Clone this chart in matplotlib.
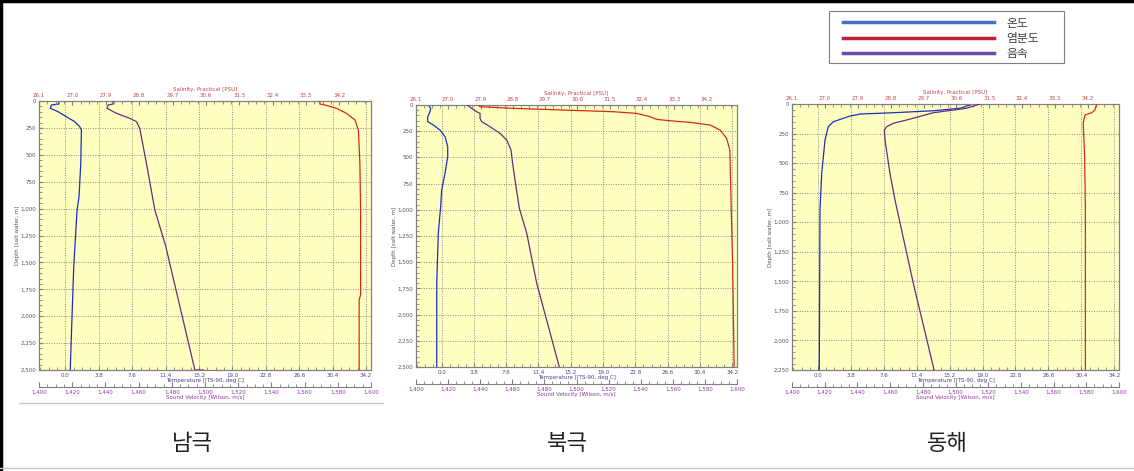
import matplotlib.pyplot as plt
from matplotlib.lines import Line2D
from matplotlib.patches import Rectangle
from matplotlib.ticker import MultipleLocator, FuncFormatter

# ---- data ----
# 남극
ant_temp_depth = [0, 28, 37, 68, 99, 146, 192, 238, 270, 579, 889, 1013, 1540, 2500]
ant_temp = [-0.73, -0.73, -1.60, -1.71, -0.84, 0.11, 1.06, 1.63, 1.82, 1.75, 1.55, 1.33, 0.95, 0.55]
ant_sv_depth = [0, 28, 37, 68, 115, 161, 192, 254, 579, 1013, 1354, 2500, 2500]
ant_sv = [1444.6, 1444.6, 1441.6, 1441.0, 1446.7, 1454.7, 1458.7, 1460.7, 1464.7, 1469.8, 1476.4, 1493.9, 1499.0]
ant_sal_depth = [0, 28, 37, 68, 115, 177, 270, 579, 1013, 1800, 1850, 2500]
ant_sal = [33.67, 33.67, 33.81, 34.12, 34.39, 34.62, 34.71, 34.75, 34.77, 34.77, 34.73, 34.73]

# 북극
arc_temp_depth = [0, 32, 64, 111, 159, 191, 239, 302, 397, 493, 652, 811, 970, 1224, 1701, 2500]
arc_temp = [-1.55, -1.27, -1.35, -1.62, -1.62, -0.96, -0.18, 0.41, 0.73, 0.73, 0.41, 0.02, -0.10, -0.38, -0.56, -0.56]
arc_sv_depth = [0, 32, 64, 80, 127, 159, 207, 270, 334, 429, 556, 716, 986, 1224, 1701, 2500]
arc_sv = [1432.0, 1434.7, 1437.8, 1439.9, 1439.9, 1440.9, 1446.1, 1452.3, 1456.5, 1459.2, 1460.2, 1461.7, 1464.4, 1469.0, 1475.2, 1489.3]
arc_sal_depth = [0, 16, 32, 48, 64, 80, 111, 137, 150, 169, 191, 239, 318, 429, 716, 1002, 1543, 2500]
arc_sal = [27.84, 27.88, 28.81, 30.21, 31.60, 32.25, 32.62, 32.81, 33.18, 33.83, 34.30, 34.58, 34.76, 34.85, 34.87, 34.89, 34.93, 34.97]

# 동해
eas_temp_depth = [0, 36, 57, 74, 85, 102, 150, 192, 305, 586, 896, 2250]
eas_temp = [17.93, 16.39, 13.31, 8.69, 4.85, 3.69, 1.77, 1.19, 0.81, 0.43, 0.23, 0.15]
eas_sv_depth = [0, 36, 74, 135, 163, 192, 220, 305, 586, 812, 1517, 2250]
eas_sv = [1515.0, 1506.8, 1486.4, 1470.2, 1462.0, 1457.9, 1456.5, 1456.9, 1459.9, 1463.0, 1474.2, 1486.9]
eas_sal_depth = [0, 51, 74, 93, 163, 446, 896, 2250]
eas_sal = [34.44, 34.39, 34.30, 34.12, 34.07, 34.11, 34.13, 34.13]

titles = ['남극', '북극', '동해']
depth_max = [2500, 2500, 2250]
legend_labels = ['온도', '염분도', '음속']

panels = [
    (ant_temp_depth, ant_temp, ant_sal_depth, ant_sal, ant_sv_depth, ant_sv),
    (arc_temp_depth, arc_temp, arc_sal_depth, arc_sal, arc_sv_depth, arc_sv),
    (eas_temp_depth, eas_temp, eas_sal_depth, eas_sal, eas_sv_depth, eas_sv),
]

# axes boxes in pixels (x0, y0_top, x1, y1_bottom)
boxes = [(39, 101, 371, 370), (416, 105, 737, 367), (792, 104, 1119, 370)]
title_x = [192, 567, 947]

W, H = 1134, 471
c_temp, c_sal, c_sv = '#1c2fc4', '#d42a1e', '#6b2a80'
fs = 4
kr = ['Noto Sans CJK KR', 'DejaVu Sans']

fig = plt.figure(figsize=(W / 100, H / 100), dpi=100)

for i, (td, t, sd, s, vd, v) in enumerate(panels):
    x0, y0, x1, y1 = boxes[i]
    ax = fig.add_axes([x0 / W, 1 - y1 / H, (x1 - x0) / W, (y1 - y0) / H])
    ax.set_facecolor('#ffffc0')
    ax.plot(t, td, color=c_temp, lw=0.9, zorder=3)
    ax.set_xlim(-3.0, 34.75)
    ax.set_ylim(depth_max[i], 0)
    ax.xaxis.set_major_locator(MultipleLocator(3.8))
    ax.xaxis.set_minor_locator(MultipleLocator(0.95))
    ax.xaxis.set_major_formatter(FuncFormatter(lambda x, p: f'{x:.1f}'))
    ax.yaxis.set_major_locator(MultipleLocator(250))
    ax.yaxis.set_minor_locator(MultipleLocator(50))
    ax.yaxis.set_major_formatter(FuncFormatter(lambda y, p: f'{y:,.0f}'))
    ax.grid(True, which='major', color='#8c8c8c', lw=0.7, ls=(0, (1, 1.5)))
    ax.tick_params(which='both', direction='in', labelsize=fs, colors='#808080', pad=2)
    ax.tick_params(axis='x', labelcolor='#45458a')
    ax.tick_params(axis='y', labelcolor='#555555')
    ax.tick_params(which='major', length=3)
    ax.tick_params(which='minor', length=2)
    ax.set_xlabel('Temperature [ITS-90, deg C]', fontsize=fs, color='#45458a', labelpad=0.5)
    ax.set_ylabel('Depth [salt water, m]', fontsize=fs, color='#555555', labelpad=0.5)
    for sp in ax.spines.values():
        sp.set_color('#808080')

    # salinity on top
    axs = ax.twiny()
    axs.plot(s, sd, color=c_sal, lw=0.9, zorder=3)
    axs.set_xlim(26.1, 35.05)
    axs.xaxis.set_major_locator(MultipleLocator(0.9))
    axs.xaxis.set_minor_locator(MultipleLocator(0.225))
    axs.xaxis.set_major_formatter(FuncFormatter(lambda x, p: f'{x:.1f}'))
    axs.tick_params(which='both', direction='in', labelsize=fs, colors='#808080',
                    labelcolor='#c04848', pad=2)
    axs.tick_params(which='major', length=3)
    axs.tick_params(which='minor', length=2)
    axs.set_xlabel('Salinity, Practical [PSU]', fontsize=fs, color='#c04848', labelpad=1.5)
    for sp in axs.spines.values():
        sp.set_color('#808080')

    # sound velocity on an offset bottom axis
    axv = ax.twiny()
    axv.plot(v, vd, color=c_sv, lw=0.9, zorder=3)
    axv.set_xlim(1400, 1600)
    axv.xaxis.set_ticks_position('bottom')
    axv.xaxis.set_label_position('bottom')
    axv.spines['bottom'].set_position(('outward', 12))
    for k in ['top', 'left', 'right']:
        axv.spines[k].set_visible(False)
    axv.spines['bottom'].set_color('#808080')
    axv.xaxis.set_major_locator(MultipleLocator(20))
    axv.xaxis.set_minor_locator(MultipleLocator(5))
    axv.xaxis.set_major_formatter(FuncFormatter(lambda x, p: f'{x:,.0f}'))
    axv.tick_params(which='both', direction='in', labelsize=fs, colors='#808080',
                    labelcolor='#8a3a9a', pad=2)
    axv.tick_params(which='major', length=3.5)
    axv.tick_params(which='minor', length=2)
    axv.set_xlabel('Sound Velocity [Wilson, m/s]', fontsize=fs, color='#8a3a9a', labelpad=0.5)

    fig.text(title_x[i] / W, 1 - 443 / H, titles[i], fontsize=16, ha='center', va='center',
             family=kr, weight='light', color='#222222')

# legend: box drawn separately so it can be wider than the entries
fig.add_artist(Rectangle((829 / W, 1 - 63 / H), 235 / W, 52 / H, transform=fig.transFigure,
                         facecolor='white', edgecolor='#7f7f7f', lw=0.8))
handles = [Line2D([], [], color='#4472c4', lw=2.5),
           Line2D([], [], color='#c0203a', lw=2.5),
           Line2D([], [], color='#6a4ca8', lw=2.5)]
leg = fig.legend(handles, legend_labels, loc='upper left',
                 bbox_to_anchor=(843 / W, 1 - 16.5 / H), frameon=False,
                 handlelength=12.8, handletextpad=1.0, labelspacing=0.2,
                 borderpad=0, borderaxespad=0,
                 prop={'family': kr, 'size': 8.5})
for txt in leg.get_texts():
    txt.set_color('#404040')

# page frame lines
fig.add_artist(Line2D([0, 1], [1 - 1 / H, 1 - 1 / H], color='black', lw=2.5))
fig.add_artist(Line2D([1 / W, 1 / W], [0, 1], color='black', lw=2.5))
fig.add_artist(Line2D([0, 1], [1 - 468 / H, 1 - 468 / H], color='#c8c8c8', lw=1))
fig.add_artist(Line2D([19 / W, 383 / W], [1 - 403 / H, 1 - 403 / H], color='#c8c8c8', lw=1))

plt.savefig('out.png', dpi=100)
